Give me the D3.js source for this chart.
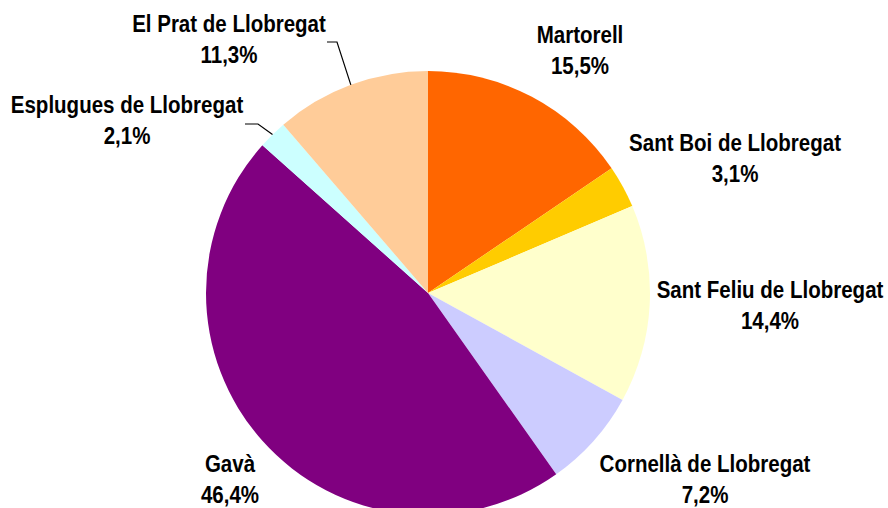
<!DOCTYPE html>
<html><head><meta charset="utf-8">
<script src="https://cdn.jsdelivr.net/npm/d3@7"></script>
<style>
html,body{margin:0;padding:0;background:#fff;}
text{font-family:"Liberation Sans",Arial,sans-serif;font-weight:bold;font-size:24px;fill:#000;}
</style></head>
<body><svg id="c" width="888" height="508"></svg>
<script>
const categories = ["Martorell","Sant Boi de Llobregat","Sant Feliu de Llobregat","Cornellà de Llobregat","Gavà","Esplugues de Llobregat","El Prat de Llobregat"];
const values = [15.5, 3.1, 14.4, 7.2, 46.4, 2.1, 11.3];
const colors = ["#FF6600","#FFCC00","#FFFFCC","#CCCCFF","#800080","#CCFFFF","#FFCC99"];
// label layout: center x, first baseline y (relative to pie center)
const labelPos = [[152,-250],[307,-142],[342,5],[277,179],[-198,179],[-301,-180],[-199,-261]];
const leaders = [null,null,null,null,null,[[-170,-169],[-183,-169]],[[-91,-251],[-101,-251]]];

const svg = d3.select("#c");
const cx = 428, cy = 293, R = 222;
const g = svg.append("g").attr("transform",`translate(${cx},${cy})`);
const pie = d3.pie().sort(null).value(d=>d)(values);
const arc = d3.arc().innerRadius(0).outerRadius(R);
g.selectAll("path.s").data(pie).join("path").attr("class","s")
  .attr("d",arc).attr("fill",(d,i)=>colors[i]);

const fmt = v => d3.format(".1f")(v).replace(".",",")+"%";
pie.forEach((d,i)=>{
  const [lx,ly] = labelPos[i];
  const t = g.append("text").attr("text-anchor","middle")
    .attr("transform",`translate(${lx},0) scale(0.855,1)`);
  t.append("tspan").attr("x",0).attr("y",ly).text(categories[i]);
  t.append("tspan").attr("x",0).attr("y",ly+31).text(fmt(values[i]));
  if (leaders[i]) {
    const a = (d.startAngle+d.endAngle)/2;
    const p0 = [R*Math.sin(a), -R*Math.cos(a)];
    const pts = [p0, ...leaders[i]];
    g.append("path").attr("d",d3.line()(pts)).attr("fill","none").attr("stroke","#000").attr("stroke-width",1.2);
  }
});
</script></body></html>
